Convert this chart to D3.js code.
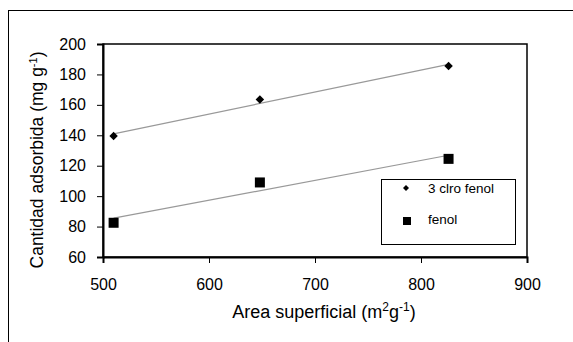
<!DOCTYPE html>
<html>
<head>
<meta charset="utf-8">
<script src="https://cdn.jsdelivr.net/npm/d3@7"></script>
<style>
  body { margin: 0; background: #fff; }
  text { font-family: Arial, "Liberation Sans", sans-serif; fill: #000; }
  .axis path, .axis line { stroke: #000; }
  .axis text { font-size: 16px; }
  .axislabel { font-size: 17.5px; }
  .legend { font-size: 13.5px; }
  .trend { fill: none; stroke: #999; stroke-width: 1.2; }
</style>
</head>
<body>
<svg id="chart" width="573" height="342"></svg>
<script>
// surface area (m2/g) of the three materials
const areas = [510, 648, 826];
// adsorbed amounts (mg/g)
const clorofenol = [139.5, 163.5, 185.5];
const fenol = [82.5, 109, 124.5];
const xTicks = [500, 600, 700, 800, 900];
const yTicks = [60, 80, 100, 120, 140, 160, 180, 200];
const seriesNames = ["3 clro fenol", "fenol"];

let svg = d3.select("#chart");

// outer chart frame (runs off the right and bottom of the image)
svg.append("rect").attr("x", 8.5).attr("y", 10.5).attr("width", 700).attr("height", 500)
    .attr("fill", "none").attr("stroke", "#000").attr("stroke-width", 1);

let xScale = d3.scaleLinear().domain([500, 900]).range([103, 527]);
let yScale = d3.scaleLinear().domain([60, 200]).range([257, 44]);

// plot area border
svg.append("rect").attr("x", xScale(500)).attr("y", yScale(200))
    .attr("width", xScale(900) - xScale(500)).attr("height", yScale(60) - yScale(200))
    .attr("fill", "none").attr("stroke", "#000").attr("stroke-width", 1.5);

let xAxis = d3.axisBottom(xScale).tickValues(xTicks).tickSizeOuter(0).tickSize(6).tickPadding(16);
svg.append("g").attr("class", "axis").attr("transform", "translate(0," + yScale(60) + ")")
    .call(xAxis).call(g => g.select(".domain").attr("stroke-width", 2));

let yAxis = d3.axisLeft(yScale).tickValues(yTicks).tickSizeOuter(0).tickSize(6).tickPadding(11);
svg.append("g").attr("class", "axis").attr("transform", "translate(" + xScale(500) + ",0)")
    .call(yAxis).call(g => g.select(".domain").attr("stroke-width", 2));

svg.selectAll(".axis text").attr("font-family", null);

// axis titles
let xt = svg.append("text").attr("class", "axislabel").attr("text-anchor", "middle")
    .attr("x", 324).attr("y", 318).style("font-size", "18px");
xt.append("tspan").text("Area superficial (m");
xt.append("tspan").attr("dy", -7).attr("font-size", "12px").text("2");
xt.append("tspan").attr("dy", 7).text("g");
xt.append("tspan").attr("dy", -7).attr("font-size", "12px").text("-1");
xt.append("tspan").attr("dy", 7).text(")");

let yt = svg.append("text").attr("class", "axislabel").attr("text-anchor", "middle")
    .attr("transform", "translate(43,160) rotate(-90)");
yt.append("tspan").text("Cantidad adsorbida (mg g");
yt.append("tspan").attr("dy", -6).attr("font-size", "11px").text("-1");
yt.append("tspan").attr("dy", 6).text(")");

// least squares trend line through each series
function trend(ys) {
    let mx = d3.mean(areas), my = d3.mean(ys);
    let sxy = d3.sum(areas, (x, i) => (x - mx) * (ys[i] - my));
    let sxx = d3.sum(areas, x => (x - mx) * (x - mx));
    let b = sxy / sxx, a = my - b * mx;
    let ext = d3.extent(areas);
    return ext.map(x => [x, a + b * x]);
}
let line = d3.line().x(d => xScale(d[0])).y(d => yScale(d[1]));
svg.append("path").attr("class", "trend").attr("d", line(trend(clorofenol)));
svg.append("path").attr("class", "trend").attr("d", line(trend(fenol)));

// markers
let diamond = d3.symbol().type(d3.symbolSquare).size(36);
svg.selectAll(".dia").data(areas).join("path").attr("class", "dia")
    .attr("d", diamond)
    .attr("transform", (d, i) => "translate(" + xScale(d) + "," + yScale(clorofenol[i]) + ") rotate(45)")
    .attr("fill", "#000");

svg.selectAll(".sq").data(areas).join("rect").attr("class", "sq")
    .attr("x", d => xScale(d) - 5).attr("y", (d, i) => yScale(fenol[i]) - 5)
    .attr("width", 10).attr("height", 10).attr("fill", "#000");

// legend
svg.append("rect").attr("x", 381.5).attr("y", 179.5).attr("width", 134).attr("height", 65)
    .attr("fill", "#fff").attr("stroke", "#000").attr("stroke-width", 1);
svg.append("path").attr("d", d3.symbol().type(d3.symbolSquare).size(18))
    .attr("transform", "translate(406,188) rotate(45)").attr("fill", "#000");
svg.append("rect").attr("x", 403).attr("y", 217).attr("width", 8).attr("height", 8).attr("fill", "#000");
svg.append("text").attr("class", "legend").attr("x", 428).attr("y", 193).text(seriesNames[0]);
svg.append("text").attr("class", "legend").attr("x", 428).attr("y", 224).text(seriesNames[1]);
</script>
</body>
</html>
